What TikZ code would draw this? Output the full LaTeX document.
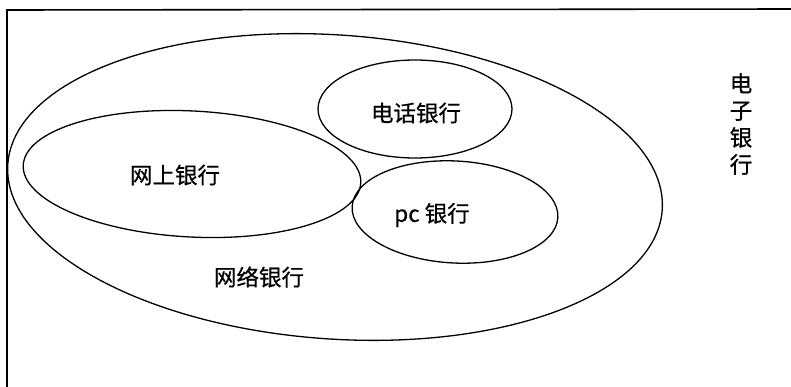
\documentclass[tikz,border=0pt]{standalone}
\usepackage{fontspec}
\setmainfont{Noto Sans CJK SC}[FakeBold=0.6]
\usetikzlibrary{shapes.geometric}
\begin{document}
\begin{tikzpicture}[x=1pt,y=-1pt,
  ring/.style={draw=black,line width=1.3pt},
  lbl/.style={font=\fontsize{22.5}{27}\selectfont,inner sep=0pt}]
\useasboundingbox (0,0) rectangle (791,387);
\begin{scope}
\clip (0,0) rectangle (791,387);
\draw[line width=1.6pt] (7,400) -- (7,10) -- (800,9);
\end{scope}
% outer ellipse
\draw[ring,rotate around={-4:(335,187)}] (335,187) ellipse [x radius=328,y radius=152];
\draw[ring,rotate around={-3:(192,174)}] (192,174) ellipse [x radius=169,y radius=63];
\draw[ring] (415,109) ellipse [x radius=97,y radius=49];
\draw[ring,rotate around={-3:(455,212)}] (455,212) ellipse [x radius=103,y radius=51];
\node[lbl] (phone) at (416,113) {电话银行};
\node[lbl] (web) at (175,175) {网上银行};
\node[lbl] (pc) at (432,215) {pc 银行};
\node[lbl] (net) at (259,277) {网络银行};
\node[lbl,align=center] (ebank) at (741,124) {电\\子\\银\\行};
\end{tikzpicture}
\end{document}
